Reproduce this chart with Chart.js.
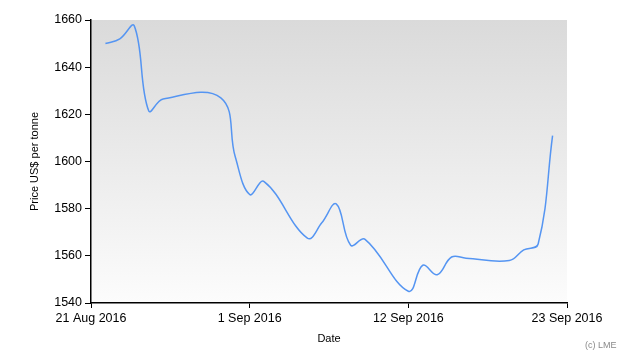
<!DOCTYPE html>
<html>
<head>
<meta charset="utf-8">
<script src="https://cdn.jsdelivr.net/npm/chart.js@4/dist/chart.umd.min.js"></script>
<style>
    body { margin: 0; background: #fff; }
    #wrap { position: relative; width: 630px; height: 360px; }
    #copy { position: absolute; left: 585px; top: 340px; font: 9px "Liberation Sans", sans-serif; color: #8a8a8a; }
</style>
</head>
<body>
<div id="wrap">
    <canvas id="priceChart" width="630" height="360"></canvas>
    <div id="copy">(c) LME</div>
</div>
<script>
// trading days and settlement prices (US$ per tonne)
const dates = [
    '2016-08-22', '2016-08-23', '2016-08-24', '2016-08-25', '2016-08-26',
    '2016-08-30', '2016-08-31', '2016-09-01', '2016-09-02',
    '2016-09-05', '2016-09-06', '2016-09-07', '2016-09-08', '2016-09-09',
    '2016-09-12', '2016-09-13', '2016-09-14', '2016-09-15', '2016-09-16',
    '2016-09-19', '2016-09-20', '2016-09-21', '2016-09-22'
];
const prices = [
    1650, 1652, 1657.5, 1621.5, 1626.5,
    1627, 1602, 1586, 1591.5,
    1567.5, 1574, 1582, 1564.5, 1567,
    1545, 1556, 1552, 1559.5, 1559,
    1558, 1562.5, 1565, 1611
];
const xTickLabels = ['21 Aug 2016', '1 Sep 2016', '12 Sep 2016', '23 Sep 2016'];
const yTicks = [1540, 1560, 1580, 1600, 1620, 1640, 1660];

// x axis is in days counted from 21 Aug 2016
const START = Date.UTC(2016, 7, 21);
const DAY = 86400000;
const toDay = d => (Date.parse(d + 'T00:00:00Z') - START) / DAY;
const xTicks = xTickLabels.map((_, i) => i * 11);

const points = dates.map((d, i) => ({ x: toDay(d), y: prices[i] }));

const font = { family: '"Liberation Sans", Arial, sans-serif', size: 12.5 };
const titleFont = { family: '"Liberation Sans", Arial, sans-serif', size: 11 };

// grey gradient behind the plot
const plotBackground = {
    id: 'plotBackground',
    beforeDraw(chart) {
        const { ctx, chartArea: a } = chart;
        const g = ctx.createLinearGradient(0, a.top, 0, a.bottom);
        g.addColorStop(0, '#dadada');
        g.addColorStop(1, '#fcfcfc');
        ctx.save();
        ctx.fillStyle = g;
        ctx.fillRect(a.left, a.top, a.right - a.left, a.bottom - a.top);
        ctx.restore();
    }
};

new Chart(document.getElementById('priceChart'), {
    type: 'line',
    data: {
        datasets: [{
            data: points,
            borderColor: '#5595f2',
            borderWidth: 1.5,
            pointRadius: 0,
            tension: 0.4,
            fill: false
        }]
    },
    options: {
        responsive: false,
        animation: false,
        layout: { padding: { top: 20, right: 63, left: 0, bottom: 0 } },
        plugins: { legend: { display: false }, tooltip: { enabled: false } },
        scales: {
            x: {
                type: 'linear',
                min: 0,
                max: 33,
                afterBuildTicks: s => { s.ticks = xTicks.map(v => ({ value: v })); },
                afterFit: s => { s.height = 57; },
                ticks: {
                    color: '#000',
                    font: font,
                    padding: 3,
                    maxRotation: 0,
                    autoSkip: false,
                    callback: (v) => xTickLabels[xTicks.indexOf(v)]
                },
                grid: { drawOnChartArea: false, tickLength: 5, color: '#000' },
                border: { color: '#000', width: 1.5 },
                title: { display: true, text: 'Date', color: '#000', font: titleFont, padding: { bottom: 14 } }
            },
            y: {
                min: 1540,
                max: 1660,
                afterBuildTicks: s => { s.ticks = yTicks.map(v => ({ value: v })); },
                afterFit: s => { s.width = 91; },
                ticks: { color: '#000', font: font, padding: 3, callback: v => String(v) },
                grid: { drawOnChartArea: false, tickLength: 6, color: '#000' },
                border: { color: '#000', width: 1.5 },
                title: { display: true, text: 'Price US$ per tonne', color: '#000', font: titleFont, padding: { top: 28 } }
            }
        }
    },
    plugins: [plotBackground]
});
</script>
</body>
</html>
